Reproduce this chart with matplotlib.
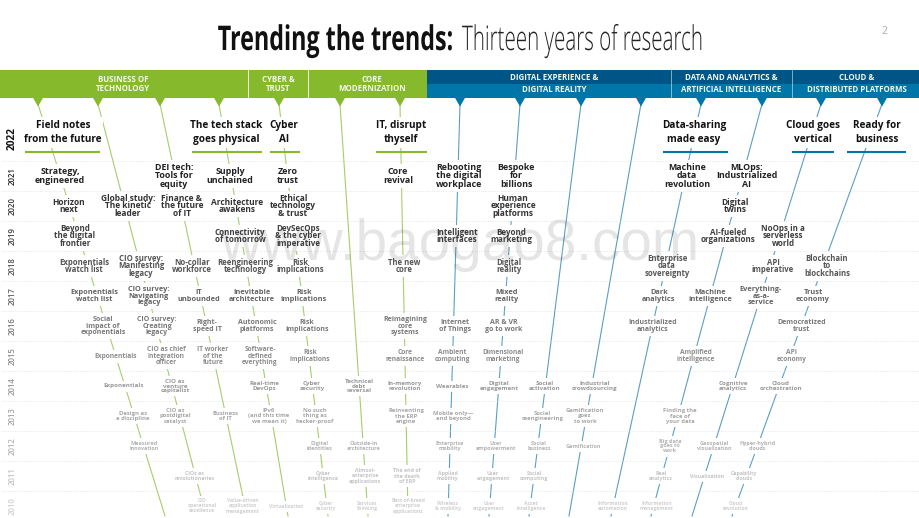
import matplotlib
matplotlib.use("Agg")
import matplotlib.pyplot as plt
from matplotlib.patches import Rectangle
from matplotlib.patheffects import AbstractPathEffect
from matplotlib.transforms import Affine2D

years = [2022, 2021, 2020, 2019, 2018, 2017, 2016, 2015, 2014, 2013, 2012, 2011, 2010]

# one entry per year, 2022 first, None where the track has no report that year
field_notes = ["Field notes\nfrom the future", "Strategy,\nengineered", "Horizon\nnext", "Beyond\nthe digital\nfrontier",
               "Exponentials\nwatch list", "Exponentials\nwatch list", "Social\nimpact of\nexponentials", "Exponentials",
               "Exponentials", "Design as\na discipline", "Measured\ninnovation", None, None]
global_study = [None, None, "Global study:\nThe kinetic\nleader", None, "CIO survey:\nManifesting\nlegacy",
                "CIO survey:\nNavigating\nlegacy", "CIO survey:\nCreating\nlegacy", "CIO as chief\nintegration\nofficer",
                "CIO as\nventure\ncapitalist", "CIO as\npostdigital\ncatalyst", None, "CIOs as\nrevolutionaries",
                "CIO\noperational\nexcellence"]
dei_tech = [None, "DEI tech:\nTools for\nequity", "Finance &\nthe future\nof IT", None, "No-collar\nworkforce", "IT\nunbounded",
            "Right-\nspeed IT", "IT worker\nof the\nfuture", None, "Business\nof IT", None, None,
            "Value-driven\napplication\nmanagement"]
tech_stack = ["The tech stack\ngoes physical", "Supply\nunchained", "Architecture\nawakens", "Connectivity\nof tomorrow",
              "Reengineering\ntechnology", "Inevitable\narchitecture", "Autonomic\nplatforms", "Software-\ndefined\neverything",
              "Real-time\nDevOps", "IPv6\n(and this time\nwe mean it)", None, None, "Virtualization"]
cyber = ["Cyber\nAI", "Zero\ntrust", "Ethical\ntechnology\n& trust", "DevSecOps\n& the cyber\nimperative", "Risk\nimplications",
         "Risk\nimplications", "Risk\nimplications", "Risk\nimplications", "Cyber\nsecurity", "No such\nthing as\nhacker-proof",
         "Digital\nidentities", "Cyber\nintelligence", "Cyber\nsecurity"]
tech_debt = [None, None, None, None, None, None, None, None, "Technical\ndebt\nreversal", None, "Outside-in\narchitecture",
             "Almost-\nenterprise\napplications", "Services\nthinking"]
core = ["IT, disrupt\nthyself", "Core\nrevival", None, None, "The new\ncore", None, "Reimagining\ncore\nsystems",
        "Core\nrenaissance", "In-memory\nrevolution", "Reinventing\nthe ERP\nengine", None, "The end of\nthe death\nof ERP",
        "Best-of-breed\nenterprise\napplications"]
workplace = [None, "Rebooting\nthe digital\nworkplace", None, "Intelligent\ninterfaces", None, None, "Internet\nof Things",
             "Ambient\ncomputing", "Wearables", "Mobile only—\nand beyond", "Enterprise\nmobility", "Applied\nmobility",
             "Wireless\n& mobility"]
bespoke = [None, "Bespoke\nfor\nbillions", "Human\nexperience\nplatforms", "Beyond\nmarketing", "Digital\nreality", "Mixed\nreality",
           "AR & VR\ngo to work", "Dimensional\nmarketing", "Digital\nengagement", None, "User\nempowerment", "User\nengagement",
           "User\nengagement"]
social = [None, None, None, None, None, None, None, None, "Social\nactivation", "Social\nreengineering", "Social\nbusiness",
          "Social\ncomputing", "Asset\nintelligence"]
crowd = [None, None, None, None, None, None, None, None, "Industrial\ncrowdsourcing", "Gamification\ngoes\nto work", "Gamification",
         None, None]
data_sharing = ["Data-sharing\nmade easy", "Machine\ndata\nrevolution", None, None, "Enterprise\ndata\nsovereignty", "Dark\nanalytics",
                "Industrialized\nanalytics", None, None, None, None, None, "Information\nautomation"]
mlops = [None, "MLOps:\nIndustrialized\nAI", "Digital\ntwins", "AI-fueled\norganizations", None, "Machine\nintelligence", None,
         "Amplified\nintelligence", None, "Finding the\nface of\nyour data", "Big data\ngoes to\nwork", "Real\nanalytics",
         "Information\nmanagement"]
cloud = ["Cloud goes\nvertical", None, None, "NoOps in a\nserverless\nworld", "API\nimperative", "Everything-\nas-a-\nservice", None,
         None, "Cognitive\nanalytics", None, "Geospatial\nvisualization", "Visualization", None]
ready = ["Ready for\nbusiness", None, None, None, "Blockchain\nto\nblockchains", "Trust\neconomy", "Democratized\ntrust", "API\neconomy",
         "Cloud\norchestration", None, "Hyper-hybrid\nclouds", "Capability\nclouds", "Cloud\nrevolution"]

field_notes_x = [63, 60, 69, 75, 84, 94, 103, 116, 124, 133, 144, 0, 0]
global_study_x = [0, 0, 128, 0, 141, 149, 157, 166, 175, 175, 0, 195, 202]
dei_tech_x = [0, 174, 182, 0, 192, 199, 207, 213, 0, 225, 0, 0, 243]
tech_stack_x = [226, 230, 237, 240, 245, 252, 257, 260, 264, 269, 0, 0, 286]
cyber_x = [284, 288, 293, 298, 300, 304, 307, 310, 312, 315, 320, 323, 326]
tech_debt_x = [0, 0, 0, 0, 0, 0, 0, 0, 359, 0, 364, 365, 367]
core_x = [401, 398, 0, 0, 404, 0, 405, 405, 405, 406, 0, 407, 408]
workplace_x = [0, 459, 0, 457, 0, 0, 455, 452, 452, 453, 450, 448, 448]
bespoke_x = [0, 516, 513, 511, 509, 507, 504, 503, 499, 0, 496, 493, 489]
social_x = [0, 0, 0, 0, 0, 0, 0, 0, 545, 542, 539, 534, 531]
crowd_x = [0, 0, 0, 0, 0, 0, 0, 0, 595, 585, 583, 0, 0]
data_sharing_x = [694, 687, 0, 0, 667, 659, 653, 0, 0, 0, 0, 0, 613]
mlops_x = [0, 747, 735, 728, 0, 710, 0, 696, 0, 680, 670, 661, 657]
cloud_x = [813, 0, 0, 783, 773, 761, 0, 0, 733, 0, 714, 707, 0]
ready_x = [877, 0, 0, 0, 827, 813, 802, 792, 781, 0, 758, 744, 736]

# notch on the band, where the track leaves the bottom of the page
green_tracks = [(field_notes, field_notes_x, 38, 165), (global_study, global_study_x, 98, 206), (dei_tech, dei_tech_x, 160, 247),
                (tech_stack, tech_stack_x, 219, 288), (cyber, cyber_x, 279, 328), (tech_debt, tech_debt_x, 340, 368), (core, core_x, 400, 408)]
blue_tracks = [(workplace, workplace_x, 460, 448), (bespoke, bespoke_x, 520, 489), (social, social_x, 581, 529), (crowd, crowd_x, 641, 569),
               (data_sharing, data_sharing_x, 701, 611), (mlops, mlops_x, 762, 651), (cloud, cloud_x, 821, 692), (ready, ready_x, 882, 732)]

green_rules = [(25, 100), (192, 262), (270, 300), (376, 427)]
blue_rules = [(663, 728), (792, 834), (847, 906)]

text_px = [10.0, 8.9, 8.4, 8.0, 7.8, 7.4, 7.0, 6.6, 6.3, 5.9, 5.5, 5.3, 5.0]
text_lines = [1.35, 0.88, 0.78, 0.8, 0.85, 0.83, 0.9, 0.9, 0.95, 1.1, 1.0, 1.15, 1.0]
text_col = ["#111111", "#222222", "#333333", "#3f3f3f", "#555555", "#646464", "#787878", "#8c8c8c", "#999999", "#a6a6a6", "#b4b4b4", "#c4c4c4", "#d0d0d0"]

GREEN = "#86b92b"
LIGHT_GREEN = "#a9cc6c"
BLUE = "#0076a8"
DARK_BLUE = "#005587"
LIGHT_BLUE = "#5a9fc2"
FONT = "Open Sans"


class SqueezeX(AbstractPathEffect):
    # the title font is a condensed cut that is not installed, so narrow the glyphs about x0
    def __init__(self, x0, factor):
        super().__init__()
        self.squeeze = Affine2D().translate(-x0, 0).scale(factor, 1).translate(x0, 0)

    def draw_path(self, renderer, gc, tpath, affine, rgbFace=None):
        renderer.draw_path(gc, tpath, affine + self.squeeze, rgbFace)


def row_y(i):
    return 138 if i == 0 else 176 + (i - 1) * 30


def draw_track(ax, labels, xs, top, bottom, colour):
    ax.plot([top, bottom], [104, 516], color=colour, lw=0.8, zorder=1)
    renderer = ax.figure.canvas.get_renderer()
    for i, (label, x) in enumerate(zip(labels, xs)):
        if label is None:
            continue
        y = 132.5 if i == 0 else row_y(i)
        t = ax.text(x, y, label, ha="center", va="center", multialignment="center", family=FONT, weight="bold",
                    fontsize=text_px[i] * 0.72, color=text_col[i], linespacing=text_lines[i], zorder=2)
        # white patch under the label breaks the track line, without touching neighbouring text
        box = t.get_window_extent(renderer)
        ax.add_patch(Rectangle((box.x0 - 1.5, 518 - box.y1 - 3), box.width + 3, box.height + 6,
                               facecolor="white", edgecolor="none", zorder=1.5))


fig = plt.figure(figsize=(9.2, 5.18), dpi=100)
ax = fig.add_axes([0, 0, 1, 1])
ax.set_xlim(0, 920)
ax.set_ylim(518, 0)
ax.axis("off")

# title
ax.text(453, 50, "Trending the trends:", family=FONT, weight="bold", fontsize=24.5, color="#111111", ha="right",
        path_effects=[SqueezeX(453, 0.685)])
ax.text(462, 50, "Thirteen years of research", family=FONT, weight="light", fontsize=24.5, color="#222222", ha="left",
        path_effects=[SqueezeX(462, 0.605)])
ax.text(884, 34, "2", family=FONT, fontsize=7.5, color="#aaaaaa", ha="center")

# header band
ax.fill_between([0, 427], 70, 98, color=GREEN, lw=0, zorder=3)
ax.fill_between([427, 920], 70, 84, color=DARK_BLUE, lw=0, zorder=3)
ax.fill_between([427, 920], 84, 98, color=BLUE, lw=0, zorder=3)
for x in [248, 308]:
    ax.plot([x, x], [70, 98], color="white", lw=0.7, alpha=0.85, zorder=4)
for x in [671, 792]:
    ax.plot([x, x], [70, 98], color="white", lw=0.6, alpha=0.6, zorder=4)

header_font = dict(family=FONT, weight="bold", fontsize=5.7, color="#f4f8ea", ha="center", va="center", zorder=5, linespacing=1.05)
ax.text(123, 84, "BUSINESS OF\nTECHNOLOGY", **header_font)
ax.text(278, 84, "CYBER &\nTRUST", **header_font)
ax.text(372, 84, "CORE\nMODERNIZATION", **header_font)
for x, upper, lower in [(554, "DIGITAL EXPERIENCE &", "DIGITAL REALITY"),
                        (731, "DATA AND ANALYTICS &", "ARTIFICIAL INTELLIGENCE"),
                        (857, "CLOUD &", "DISTRIBUTED PLATFORMS")]:
    ax.text(x, 77.5, upper, **header_font)
    ax.text(x, 90, lower, **header_font)

# tracks
for labels, xs, top, bottom in green_tracks:
    ax.fill([top - 5.5, top + 5.5, top], [97, 97, 106.5], color=GREEN, lw=0, zorder=3)
    draw_track(ax, labels, xs, top, bottom, LIGHT_GREEN)
for labels, xs, top, bottom in blue_tracks:
    ax.fill([top - 5.5, top + 5.5, top], [97, 97, 106.5], color=BLUE, lw=0, zorder=3)
    draw_track(ax, labels, xs, top, bottom, LIGHT_BLUE)

for x0, x1 in green_rules:
    ax.plot([x0, x1], [151.5, 151.5], color=GREEN, lw=1.5, solid_capstyle="butt", zorder=3)
for x0, x1 in blue_rules:
    ax.plot([x0, x1], [151.5, 151.5], color=BLUE, lw=1.5, solid_capstyle="butt", zorder=3)

# year rows
for i, year in enumerate(years):
    ax.text(12, row_y(i), str(year), rotation=90, ha="center", va="center", family=FONT,
            weight="bold" if i < 1 else "semibold", fontsize=7.2 if i == 0 else 5.6, color=text_col[i] if i else "#111111")
    y = 161 + i * 30
    ax.plot([2, 920], [y, y], color="#d9d9d9", lw=0.5, ls=(0, (1, 1.6)), zorder=3)

# watermark sits over everything
ax.text(220, 260, "www.baogao8.com", family="Liberation Sans", fontsize=40.9, color="black", alpha=0.1, zorder=10)

fig.savefig("out.png", dpi=100)
